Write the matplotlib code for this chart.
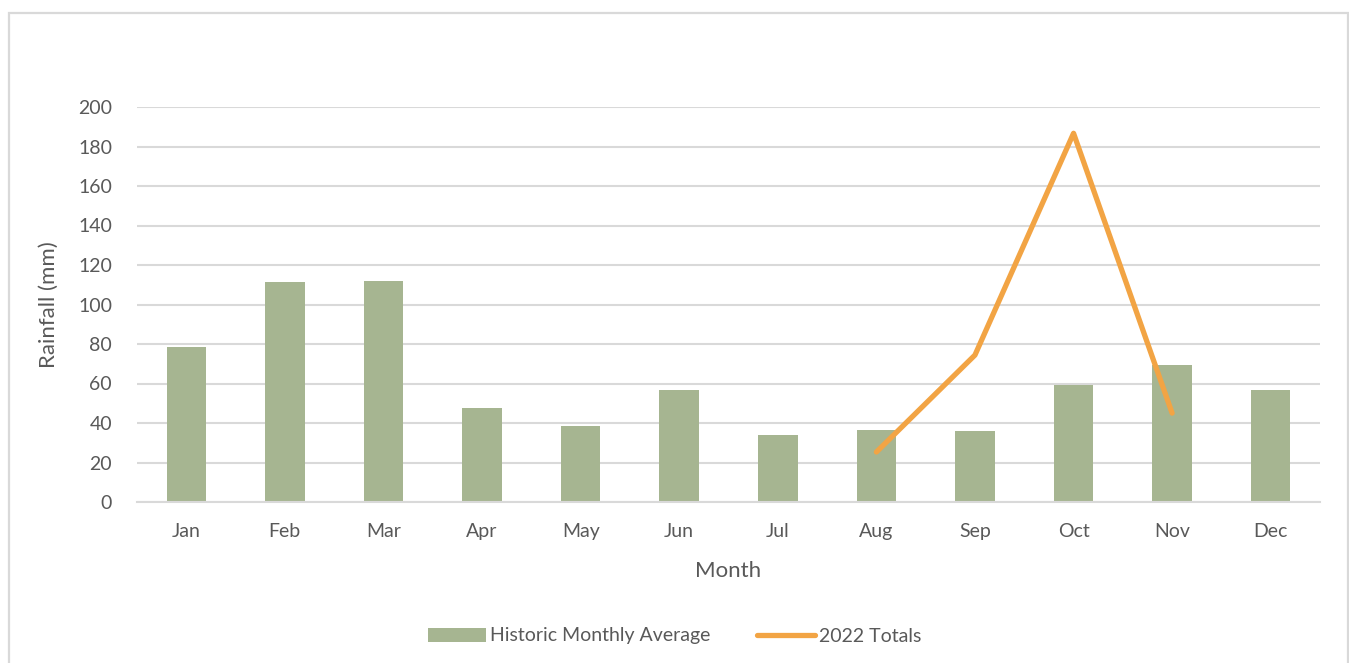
import numpy as np
import matplotlib
matplotlib.use("Agg")
from matplotlib import pyplot as plt
from matplotlib.patches import Rectangle

months = ["Jan", "Feb", "Mar", "Apr", "May", "Jun", "Jul", "Aug", "Sep", "Oct", "Nov", "Dec"]
historic_avg = [78.5, 111.4, 111.9, 47.6, 38.5, 56.7, 33.9, 36.5, 35.8, 59.0, 69.4, 56.7]
totals_months = ["Aug", "Sep", "Oct", "Nov"]
totals_2022 = [25.3, 74.4, 186.7, 45.0]

plt.rcParams['font.family'] = ['Lato', 'DejaVu Sans']
txt = '#595959'
grid = '#D9D9D9'

fig = plt.figure(figsize=(13.49, 6.63), dpi=100)
ax = fig.add_axes([137/1349, 1 - 502/663, (1320 - 137)/1349, (502 - 107)/663])

x = np.arange(len(months))
bars = ax.bar(x, historic_avg, width=0.4, color='#A6B591', label='Historic Monthly Average', zorder=2)
lx = [months.index(m) for m in totals_months]
line, = ax.plot(lx, totals_2022, color='#F2A444', lw=3.8, solid_capstyle='round',
                label='2022 Totals', zorder=3)

ax.set_xlim(-0.5, len(months) - 0.5)
ax.set_ylim(0, 200)
ax.set_yticks(np.arange(0, 201, 20))
ax.set_xticks(x)
ax.set_xticklabels(months)
ax.yaxis.grid(True, color=grid, lw=1.5, zorder=0)
ax.set_axisbelow(True)
for s in ['top', 'right', 'left']:
    ax.spines[s].set_visible(False)
ax.spines['bottom'].set_color(grid)
ax.spines['bottom'].set_linewidth(1.5)
ax.tick_params(length=0, labelsize=14, colors=txt)
ax.tick_params(axis='x', pad=15)
ax.tick_params(axis='y', pad=18)

ax.set_xlabel('Month', fontsize=16, color=txt, labelpad=15)
ax.set_ylabel('Rainfall (mm)', fontsize=16, color=txt, labelpad=14)

fig.legend([bars, line], ['Historic Monthly Average', '2022 Totals'],
           loc='center', bbox_to_anchor=(0.5, 1 - 636/663), ncol=2, frameon=False,
           fontsize=14, labelcolor=txt, handlelength=3.0, handletextpad=0.2,
           columnspacing=2.4)

# light outline round the chart area
fig.patches.append(Rectangle((9/1349, -0.05), (1348 - 9)/1349, 1.05 - 13/663,
                             transform=fig.transFigure, fill=False,
                             edgecolor=grid, lw=1.6))

fig.savefig('out.png', dpi=100)
